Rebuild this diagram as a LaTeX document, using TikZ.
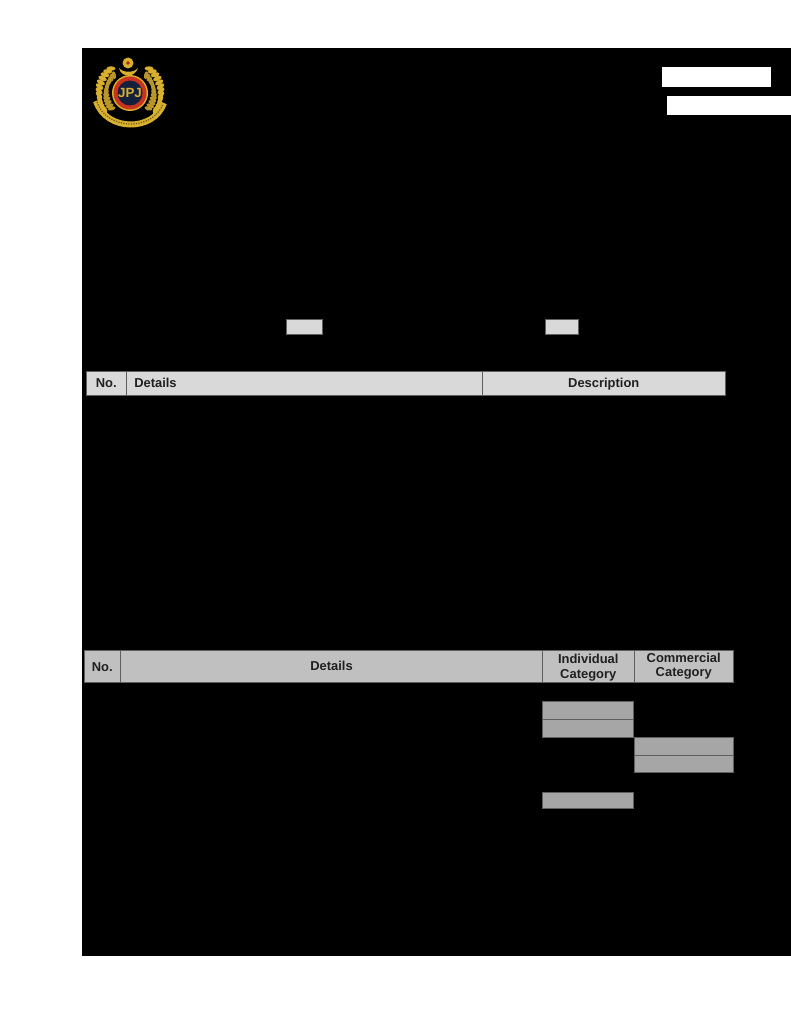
\documentclass[tikz,border=0pt]{standalone}
\usepackage{fontspec}
\setmainfont{Liberation Sans}
\usepackage{xcolor}
\usetikzlibrary{positioning, calc}
\def\px{.75pt}
\definecolor{headlight}{HTML}{D9D9D9}
\definecolor{headdark}{HTML}{C0C0C0}
\definecolor{shadecolor}{HTML}{A6A6A6}
\definecolor{rulecolor}{HTML}{5F5F5F}
\definecolor{textcolor}{HTML}{202020}
\definecolor{logogold}{HTML}{D8B02E}
\definecolor{logodark}{HTML}{6B5A18}
\definecolor{logored}{HTML}{C8321E}
\definecolor{logonavy}{HTML}{14203C}
\tikzset{
	,cell/.style	 = {rectangle, inner sep = 0pt, outer sep = 0pt, anchor = north west, draw = rulecolor, line width = .4pt}
	,headfont/.style = {font=\fontsize{9.7}{11}\selectfont\bfseries, text = textcolor}
	,head/.style	 = {cell, headfont, text height = 7pt, text depth = 0pt}
	,lighthead/.style = {head, fill = headlight, minimum height = 24.5*\px}
	,darkhead/.style = {head, fill = headdark, minimum height = 32*\px}
	,shade/.style	 = {cell, fill = shadecolor}
	,smallbox/.style = {cell, fill = headlight, minimum height = 15*\px}
	,whitebox/.style = {cell, fill = white, draw = none}
}
\begin{document}
\begin{tikzpicture}[x=\px, y=-\px]

	% the page
	\useasboundingbox (0,0) rectangle (791,1024);
	\fill[white] (0,0) rectangle (791,1024);
	\fill[black] (82,48) rectangle (791,956);

	% the crest
	\coordinate (crest) at (130,93);
	\foreach \a in {-52,-44,...,36}{
		\fill[logogold] ($(crest)+(\a:31)$) ellipse [x radius=4.5, y radius=2.3, rotate=\a+50];
		\fill[logogold] ($(crest)+(180-\a:31)$) ellipse [x radius=4.5, y radius=2.3, rotate=130-\a];
		\fill[logogold!85!black] ($(crest)+(\a+4:24)$) ellipse [x radius=4, y radius=2, rotate=\a+130];
		\fill[logogold!85!black] ($(crest)+(176-\a:24)$) ellipse [x radius=4, y radius=2, rotate=50-\a];
	}
	\draw[logogold, line width=4.5pt] (96,101) .. controls (106,132) and (154,132) .. (164,103);
	\draw[logodark, line width=.9pt, densely dotted] (97,102) .. controls (107,131) and (153,131) .. (163,104);
	\fill[logogold] (128,63) circle (5.5);
	\fill[logored!80!black] (128,63) circle (1.8);
	\fill[logogold] (119,68) .. controls (121,78) and (135,78) .. (138,68) .. controls (134,73) and (123,73) .. (119,68);
	\fill[logogold] (crest) circle (18);
	\fill[logored] (crest) circle (16.5);
	\fill[logonavy] (crest) circle (12.5);
	\node (crestname) [font=\fontsize{10}{10}\selectfont\bfseries, text = logogold, inner sep = 0pt] at (crest) {JPJ};

	% the white boxes
	\node (datebox) [whitebox, minimum width = 109*\px, minimum height = 20*\px] at (662,67) {};
	\node (refbox) [whitebox, minimum width = 124*\px, minimum height = 19*\px] at (667,96) {};

	% the small grey boxes
	\node (leftbox) [smallbox, minimum width = 36*\px] at (286,319) {};
	\node (rightbox) [smallbox, minimum width = 33*\px] at (545,319) {};

	% the first table head
	\node (noone) [lighthead, minimum width = 40.5*\px] at (86,371) {No.};
	\node (detailsone) [lighthead, minimum width = 355.5*\px, right = 0pt of noone.north east, anchor = north west, text width = 340*\px, align = left] {Details};
	\node (descone) [lighthead, minimum width = 243.5*\px, right = 0pt of detailsone.north east, anchor = north west] {Description};

	% the second table head
	\node (notwo) [darkhead, minimum width = 36.5*\px, text height = 8.5pt] at (84,650) {No.};
	\node (detailstwo) [darkhead, minimum width = 422*\px, right = 0pt of notwo.north east, anchor = north west] {Details};
	\node (indivtwo) [darkhead, minimum width = 91.5*\px, right = 0pt of detailstwo.north east, anchor = north west] {};
	\node (commtwo) [darkhead, minimum width = 99.5*\px, right = 0pt of indivtwo.north east, anchor = north west] {};
	\node (indivtext) [headfont, align = center, inner sep = 0pt] at ([yshift=-1.3pt]indivtwo.center) {Individual\\Category};
	\node (commtext) [headfont, align = center, inner sep = 0pt] at ([yshift=-.2pt]commtwo.center) {Commercial\\Category};

	% the shaded cells
	\node (shadea) [shade, minimum width = 90.5*\px, minimum height = 18*\px] at (542.5,701) {};
	\node (shadeb) [shade, minimum width = 90.5*\px, minimum height = 18*\px, below = 0pt of shadea.south west, anchor = north west] {};
	\node (shadec) [shade, minimum width = 99.5*\px, minimum height = 17.5*\px] at (634,737.5) {};
	\node (shaded) [shade, minimum width = 99.5*\px, minimum height = 17.5*\px, below = 0pt of shadec.south west, anchor = north west] {};
	\node (shadee) [shade, minimum width = 90.5*\px, minimum height = 16.5*\px] at (542.5,792) {};
\end{tikzpicture}
\end{document}
